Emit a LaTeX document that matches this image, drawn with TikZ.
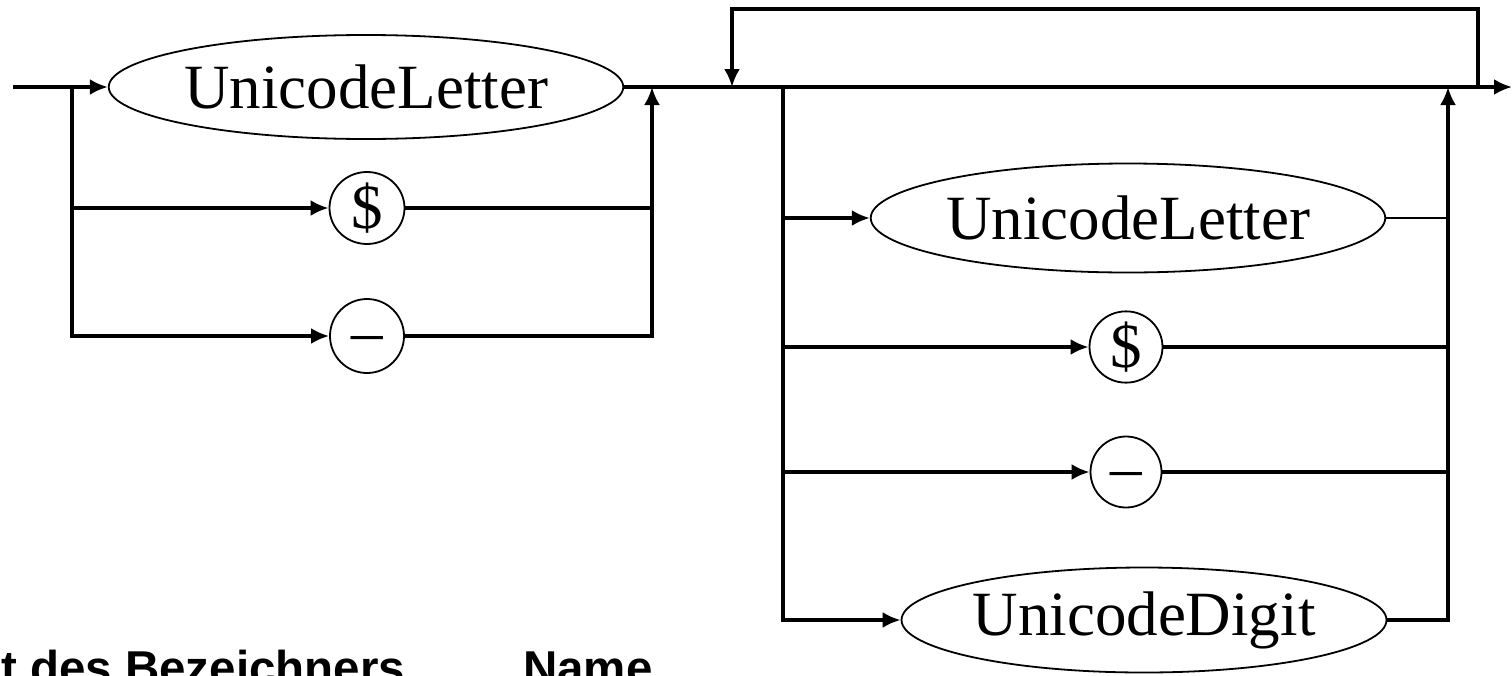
\documentclass[tikz,border=0pt]{standalone}
\usepackage{fontspec}
\setmainfont{Liberation Serif}
\newfontfamily\labelsans{Liberation Sans}
\usetikzlibrary{arrows.meta,shapes.geometric}
\begin{document}
\begin{tikzpicture}[x=1pt,y=-1pt,
  wire/.style={line width=3.3pt},
  thinwire/.style={line width=1.6pt},
  tip/.style={-{Latex[length=18pt,width=16pt]}},
  term/.style={ellipse, draw, line width=1.8pt, inner sep=0pt,
               font=\fontsize{63}{70}\selectfont},
  caption/.style={anchor=base west, inner sep=0pt,
               font=\labelsans\bfseries\fontsize{47.5}{50}\selectfont}]
\useasboundingbox (0,0) rectangle (1512,675);
\clip (0,0) rectangle (1512,675);

% first character: letter, dollar or underscore
\node[term, minimum width=458pt, minimum height=104pt] (L1) at (366,87) {UnicodeLetter};
\node[term, minimum width=75pt, minimum height=72pt] (D1) at (367,208) {\$};
\node[term, minimum width=74pt, minimum height=74pt] (U1) at (367,336) {\_};

% following characters: letter, dollar, underscore or digit
\node[term, minimum width=458pt, minimum height=109pt] (L2) at (1128,218) {UnicodeLetter};
\node[term, minimum width=73pt, minimum height=71pt] (D2) at (1126,347) {\$};
\node[term, minimum width=71pt, minimum height=71pt] (U2) at (1126,472) {\_};
\node[term, minimum width=458pt, minimum height=105pt] (G) at (1144,620) {UnicodeDigit};

% junction points
\coordinate (in)  at (13,87);
\coordinate (j1)  at (72,87);
\coordinate (j1b) at (72,208);
\coordinate (j1c) at (72,336);
\coordinate (m1)  at (652,87);
\coordinate (m1b) at (652,208);
\coordinate (m1c) at (652,336);
\coordinate (lpL) at (732,87);
\coordinate (lpLt) at (732,9);
\coordinate (lpR) at (1478,87);
\coordinate (lpRt) at (1478,9);
\coordinate (j2)  at (783,87);
\coordinate (j2a) at (783,218);
\coordinate (j2b) at (783,347);
\coordinate (j2c) at (783,472);
\coordinate (j2d) at (783,620);
\coordinate (m2)  at (1448,87);
\coordinate (m2a) at (1448,218);
\coordinate (m2b) at (1448,347);
\coordinate (m2c) at (1448,472);
\coordinate (m2d) at (1448,620);
\coordinate (out) at (1512,87);

% left block
\draw[wire,tip] (in) -- (L1.west);
\draw[wire] (j1) -- (j1b);
\draw[wire,tip] (j1b) -- (D1.west);
\draw[wire,tip] (j1b) -- (j1c) -- (U1.west);
\draw[wire] (D1.east) -- (m1b);
\draw[wire,tip] (U1.east) -- (m1c) -- (m1);
\draw[wire] (m1b) -- (m1c);

% main line and repetition loop
\draw[wire,tip] (L1.east) -- (out);
\draw[wire,tip] (lpR) -- (lpRt) -- (lpLt) -- (lpL);

% right block
\draw[wire] (j2) -- (j2a);
\draw[wire,tip] (j2a) -- (L2.west);
\draw[wire,tip] (j2b) -- (D2.west);
\draw[wire,tip] (j2c) -- (U2.west);
\draw[wire] (j2a) -- (j2c);
\draw[wire,tip] (j2c) -- (j2d) -- (G.west);
\draw[thinwire] (L2.east) -- (m2a);
\draw[wire] (D2.east) -- (m2b);
\draw[wire] (U2.east) -- (m2c);
\draw[wire,tip] (G.east) -- (m2d) -- (m2);

% captions along the lower edge
\node[caption] (cap1) at (1,684) {t des Bezeichners};
\node[caption] (cap2) at (523,684) {Name};
\end{tikzpicture}
\end{document}
